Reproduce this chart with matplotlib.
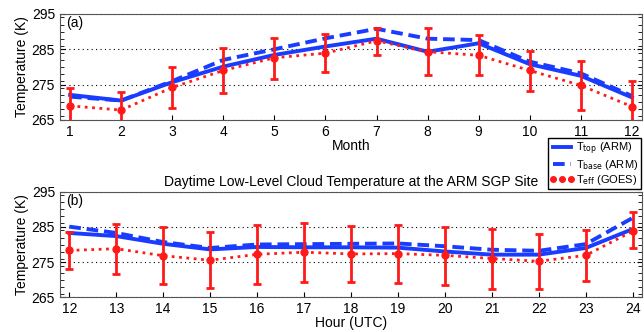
import matplotlib.pyplot as plt
from matplotlib.lines import Line2D
from matplotlib.ticker import MultipleLocator

plt.rcParams['font.family'] = ['Liberation Sans', 'DejaVu Sans']

# (a) monthly
months = [1, 2, 3, 4, 5, 6, 7, 8, 9, 10, 11, 12]
ttop_m = [272.1, 270.5, 275.7, 280.1, 283.4, 285.8, 288.0, 284.3, 286.7, 280.8, 277.5, 271.4]
tbase_m = [271.6, 270.5, 276.0, 282.0, 285.0, 288.1, 290.8, 288.0, 287.6, 281.5, 278.2, 271.8]
teff_m = [269.0, 267.8, 274.2, 279.0, 282.6, 283.9, 287.4, 284.3, 283.3, 279.0, 274.8, 268.8]
teff_m_hi = [274.1, 272.9, 280.1, 285.5, 288.1, 289.2, 291.1, 290.9, 289.0, 284.5, 281.7, 275.9]
teff_m_lo = [263.9, 262.7, 268.3, 272.5, 276.7, 278.5, 283.3, 277.8, 277.6, 273.3, 267.9, 261.7]

# (b) hourly
hours = [12, 13, 14, 15, 16, 17, 18, 19, 20, 21, 22, 23, 24]
ttop_h = [283.3, 282.4, 280.2, 278.6, 279.3, 279.2, 279.2, 279.1, 278.0, 277.1, 277.1, 279.0, 284.4]
tbase_h = [285.1, 283.3, 280.7, 279.0, 280.0, 280.1, 280.2, 280.3, 279.5, 278.5, 278.2, 280.1, 287.6]
teff_h = [278.3, 278.8, 276.8, 275.5, 277.2, 277.8, 277.3, 277.4, 276.9, 276.0, 275.2, 276.9, 283.8]
teff_h_hi = [283.7, 285.8, 285.0, 283.5, 285.6, 286.0, 285.3, 285.7, 285.1, 284.4, 283.1, 284.0, 289.3]
teff_h_lo = [273.0, 271.6, 268.7, 267.6, 268.8, 269.4, 269.3, 269.0, 268.5, 267.4, 267.4, 269.7, 279.0]

blue = '#1a3cff'
red = '#ff1a1a'

fig = plt.figure(figsize=(6.44, 3.32), dpi=100)
ax1 = fig.add_axes([0.093, 0.6386, 0.904, 0.3194])
ax2 = fig.add_axes([0.093, 0.1054, 0.904, 0.3163])


def draw(ax, x, ttop, tbase, teff, hi, lo, xlabel, tag):
    ax.plot(x, ttop, '-', color=blue, lw=2.8, zorder=3)
    ax.plot(x, tbase, '--', color=blue, lw=2.8, dashes=(3, 1.5), zorder=3)
    ax.plot(x, teff, ':', color=red, lw=2, zorder=4)
    err = [[t - l for t, l in zip(teff, lo)], [h - t for t, h in zip(teff, hi)]]
    ax.errorbar(x, teff, yerr=err, fmt='o', color=red, ms=5, elinewidth=2,
                capsize=3.2, capthick=2, zorder=5)
    ax.set_xlim(x[0] - 0.2, x[-1] + 0.2)
    ax.set_ylim(265, 295)
    ax.set_xticks(x)
    ax.set_yticks([265, 275, 285, 295])
    ax.yaxis.set_minor_locator(MultipleLocator(2))
    ax.tick_params(which='both', direction='in', top=True, right=True, labelsize=10)
    ax.tick_params(axis='x', which='both', top=False)
    ax.tick_params(which='minor', length=3)
    ax.yaxis.grid(True, which='major', ls=(0, (1, 3)), color='k', lw=0.8)
    ax.set_xlabel(xlabel, fontsize=10, labelpad=0)
    ax.set_ylabel('Temperature (K)', fontsize=10, labelpad=2)
    ax.text(0.01, 0.88, tag, transform=ax.transAxes, fontsize=10)
    for s in ax.spines.values():
        s.set_color('#555555')


draw(ax1, months, ttop_m, tbase_m, teff_m, teff_m_hi, teff_m_lo, 'Month', '(a)')
draw(ax2, hours, ttop_h, tbase_h, teff_h, teff_h_hi, teff_h_lo, 'Hour (UTC)', '(b)')
ax2.set_title('Daytime Low-Level Cloud Temperature at the ARM SGP Site', fontsize=10, pad=4)

handles = [Line2D([], [], color=blue, lw=2.8),
           Line2D([], [], color=blue, lw=2.8, ls='--', dashes=(3, 1.5)),
           Line2D([], [], color=red, lw=2, ls=':', marker='o', ms=4)]
labels = [r'T$_{\rm top}$ (ARM)', r'T$_{\rm base}$ (ARM)', r'T$_{\rm eff}$ (GOES)']
fig.legend(handles, labels, loc='upper right', bbox_to_anchor=(1.004, 0.6),
           fontsize=8, numpoints=3, handlelength=2.2, handletextpad=0.2,
           labelspacing=0.1, borderpad=0.2, fancybox=False, framealpha=1,
           edgecolor='k')

fig.savefig('out.png', dpi=100)
